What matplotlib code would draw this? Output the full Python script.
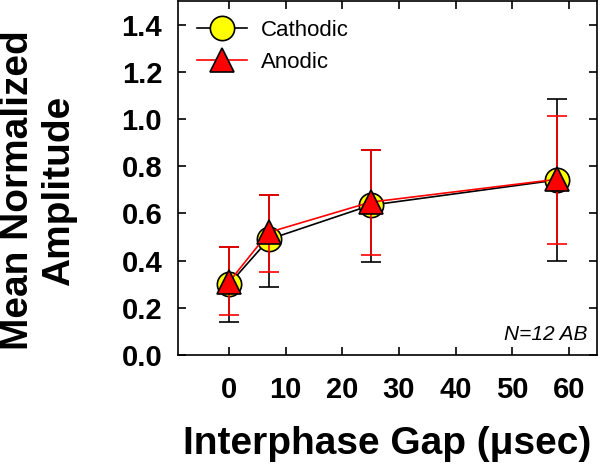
import matplotlib
matplotlib.use("Agg")
import matplotlib.pyplot as plt
from matplotlib.lines import Line2D

plt.rcParams['font.family'] = ['Liberation Sans', 'DejaVu Sans']

gap = [0, 7, 25, 58]
cath_mean = [0.30, 0.49, 0.635, 0.742]
cath_low = [0.138, 0.287, 0.393, 0.40]
cath_high = [0.456, 0.68, 0.867, 1.084]
anod_mean = [0.31, 0.52, 0.648, 0.745]
anod_low = [0.169, 0.35, 0.424, 0.47]
anod_high = [0.456, 0.68, 0.867, 1.015]

xticks = [0, 10, 20, 30, 40, 50, 60]
yticks = [0.0, 0.2, 0.4, 0.6, 0.8, 1.0, 1.2, 1.4]

fig = plt.figure(figsize=(6, 4.75), dpi=100)
ax = fig.add_axes([0.297, 0.2526, 0.698, 0.745])

c_err = [[m - l for m, l in zip(cath_mean, cath_low)], [h - m for m, h in zip(cath_mean, cath_high)]]
a_err = [[m - l for m, l in zip(anod_mean, anod_low)], [h - m for m, h in zip(anod_mean, anod_high)]]

cstyle = dict(color='black', lw=1.2, marker='o', ms=17.5, mfc='#ffff00', mec='black', mew=1.2)
astyle = dict(color='red', lw=1.2, marker='^', ms=17.5, mfc='red', mec='black', mew=1.2)

ax.errorbar(gap, cath_mean, yerr=c_err, elinewidth=1.2, ecolor='black',
            capsize=7, capthick=1.2, zorder=2, **cstyle)
ax.errorbar(gap, anod_mean, yerr=a_err, elinewidth=1.2, ecolor='red',
            capsize=7, capthick=1.2, zorder=3, **astyle)

ax.set_xlim(-9, 65)
ax.set_ylim(0, 1.5)
ax.set_xticks(xticks)
ax.set_yticks(yticks)
ax.set_yticklabels([f"{v:.1f}" for v in yticks])
ax.tick_params(direction='in', length=6, width=1.2, top=True, right=True, labelsize=21)
ax.tick_params(axis='y', pad=11.5)
ax.tick_params(axis='x', pad=15)
for lab in ax.get_xticklabels() + ax.get_yticklabels():
    lab.set_fontweight('bold')
for s in ax.spines.values():
    s.set_linewidth(1.2)

ax.set_xlabel('Interphase Gap (μsec)', fontsize=28, fontweight='bold', labelpad=16)
ax.set_ylabel('Mean Normalized\nAmplitude', fontsize=28, fontweight='bold')
ax.yaxis.set_label_coords(-0.334, 0.465)
ax.yaxis.label.set_va('center')

handles = [Line2D([], [], **cstyle), Line2D([], [], **astyle)]
ax.legend(handles, ['Cathodic', 'Anodic'], loc='upper left',
          bbox_to_anchor=(0.024, 0.972), frameon=False, fontsize=16,
          handlelength=2.25, borderaxespad=0.0, labelspacing=0.48, handletextpad=0.6)

ax.text(0.978, 0.042, 'N=12 AB', transform=ax.transAxes, ha='right', va='baseline',
        fontsize=15, fontstyle='italic')

fig.savefig('out.png', dpi=100)
